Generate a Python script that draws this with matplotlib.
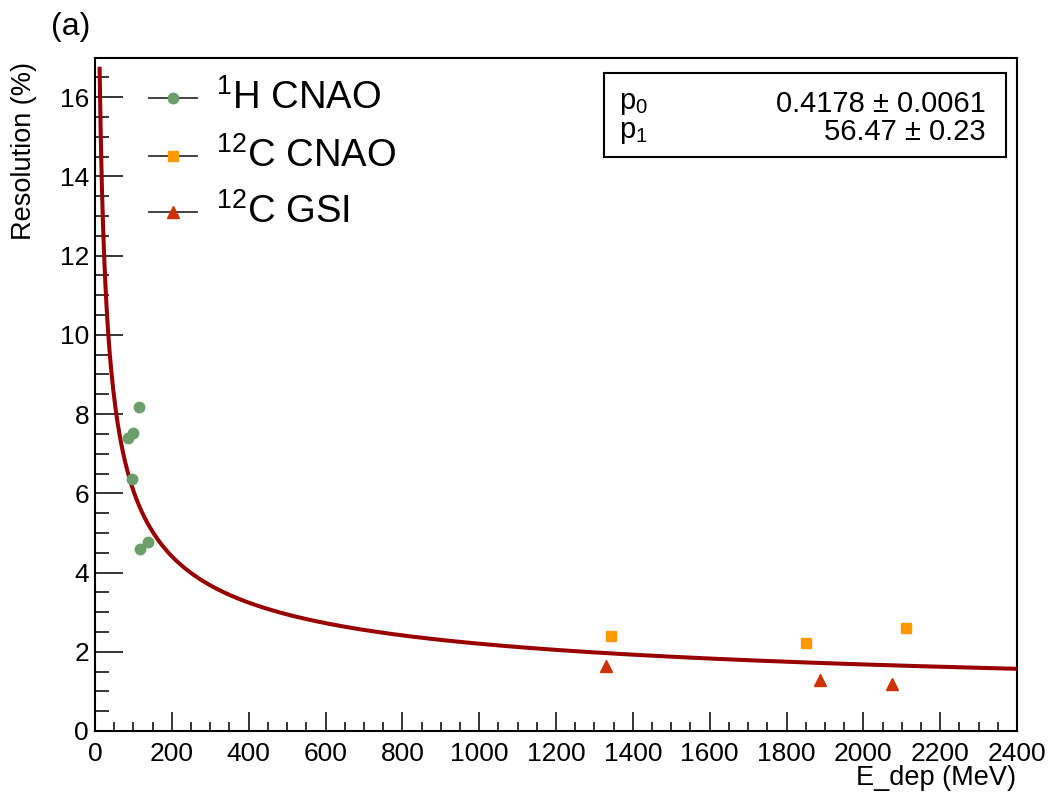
import numpy as np
import matplotlib
matplotlib.use("Agg")
import matplotlib.pyplot as plt
from matplotlib.lines import Line2D
from matplotlib.patches import Rectangle

plt.rcParams['font.family'] = ['Liberation Sans', 'DejaVu Sans']
plt.rcParams['mathtext.fontset'] = 'custom'
plt.rcParams['mathtext.rm'] = 'Liberation Sans'
plt.rcParams['mathtext.it'] = 'Liberation Sans:italic'
plt.rcParams['mathtext.bf'] = 'Liberation Sans:bold'

# ---- data ----
h_cnao_E = [114, 86, 99, 97, 117, 139]
h_cnao_R = [8.19, 7.40, 7.52, 6.35, 4.59, 4.76]
c_cnao_E = [1343, 1851, 2111]
c_cnao_R = [2.40, 2.22, 2.60]
c_gsi_E = [1330, 1887, 2075]
c_gsi_R = [1.64, 1.29, 1.19]

p0, p0_err = 0.4178, 0.0061
p1, p1_err = 56.47, 0.23
fit_range = (12, 2400)

legend_labels = [r'$^{1}$H CNAO', r'$^{12}$C CNAO', r'$^{12}$C GSI']

green = '#6b9e6b'
orange = '#ff9900'
red = '#cc3300'
fitcol = '#990000'

W, H = 1054, 796
fig = plt.figure(figsize=(W / 100, H / 100), dpi=100)
fig.patch.set_facecolor('white')

def fx(px):
    return px / W

def fy(py):
    return 1 - py / H

ax = fig.add_axes([fx(95), fy(731), (1017 - 95) / W, (731 - 58) / H])

E = np.linspace(fit_range[0], fit_range[1], 800)
ax.plot(E, p0 + p1 / np.sqrt(E), color=fitcol, lw=2.9, zorder=3)

ax.plot(h_cnao_E, h_cnao_R, 'o', color=green, ms=7.5, mec=green, zorder=4)
ax.plot(c_cnao_E, c_cnao_R, 's', color=orange, ms=7.2, mec=orange, zorder=4)
ax.plot(c_gsi_E, c_gsi_R, '^', color=red, ms=8, mec=red, zorder=4)

ax.set_xlim(0, 2400)
ax.set_ylim(0, 16.99)
ax.set_xticks(np.arange(0, 2401, 200))
ax.set_xticks(np.arange(0, 2401, 50), minor=True)
ax.set_yticks(np.arange(0, 17, 2))
ax.set_yticks(np.arange(0, 17, 0.5), minor=True)

for s in ax.spines.values():
    s.set_linewidth(1.5)
ax.tick_params(axis='both', which='both', direction='in', top=False, right=False,
               labelsize=19, width=1.1)
ax.tick_params(axis='y', which='major', length=20, pad=4.3)
ax.tick_params(axis='y', which='minor', length=10)
ax.tick_params(axis='x', which='major', length=13.7, pad=8)
ax.tick_params(axis='x', which='minor', length=6.8)

# axis titles
fig.text(fx(24), fy(62), 'Resolution (%)', rotation=90, ha='center', va='top', fontsize=19.5)
fig.text(fx(1016), fy(778), 'E_dep (MeV)', ha='right', va='center', fontsize=19.5)
fig.text(fx(51), fy(27), '(a)', ha='left', va='center', fontsize=23)

# legend (manual)
leg_y = [98, 156, 212]
leg_styles = [('o', green, 7.5), ('s', orange, 7.2), ('^', red, 8)]
for y, lab, (mk, col, ms) in zip(leg_y, legend_labels, leg_styles):
    fig.add_artist(Line2D([fx(149), fx(197)], [fy(y), fy(y)], color='#333333', lw=1.3,
                          transform=fig.transFigure))
    fig.add_artist(Line2D([fx(173)], [fy(y)], marker=mk, color=col, mec=col, ms=ms,
                          transform=fig.transFigure))
    fig.text(fx(216), fy(y), lab, ha='left', va='center', fontsize=27.5)

# stats box
fig.add_artist(Rectangle((fx(604), fy(157)), (1006 - 604) / W, (157 - 73) / H,
                         transform=fig.transFigure, fill=False, lw=1.5, ec='black'))
fig.text(fx(619), fy(103), r'p$_{0}$', ha='left', va='center', fontsize=21)
fig.text(fx(986), fy(104), f'{p0:.4f} ± {p0_err:.4f}', ha='right', va='center', fontsize=21)
fig.text(fx(619), fy(132), r'p$_{1}$', ha='left', va='center', fontsize=21)
fig.text(fx(986), fy(132), f'{p1:.2f} ± {p1_err:.2f}', ha='right', va='center', fontsize=21)

fig.savefig('out.png', dpi=100, facecolor='white')
